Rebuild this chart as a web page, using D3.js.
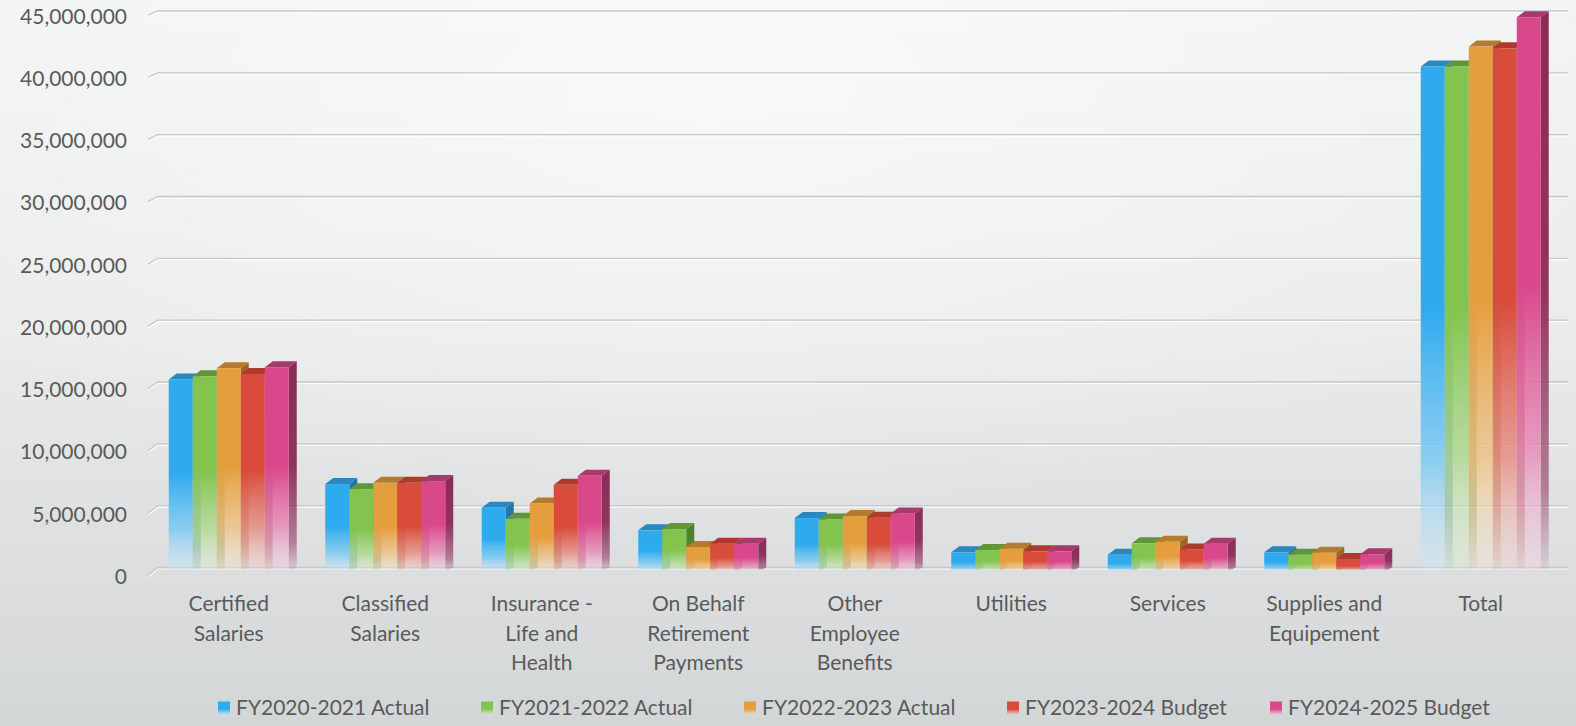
<!DOCTYPE html>
<html>
<head>
<meta charset="utf-8">
<script src="https://cdn.jsdelivr.net/npm/d3@7"></script>
<style>
  html, body { margin: 0; padding: 0; background: #e6e8e8; }
  svg { display: block; font-family: Lato, "Open Sans", sans-serif; }
</style>
</head>
<body>
<svg id="chart" width="1576" height="726"></svg>
<script>
// ---- data -------------------------------------------------------------
const categories = [
  "Certified Salaries", "Classified Salaries", "Insurance - Life and Health",
  "On Behalf Retirement Payments", "Other Employee Benefits", "Utilities",
  "Services", "Supplies and Equipement", "Total"
];
const categoryLines = [
  ["Certified", "Salaries"], ["Classified", "Salaries"], ["Insurance -", "Life and", "Health"],
  ["On Behalf", "Retirement", "Payments"], ["Other", "Employee", "Benefits"], ["Utilities"],
  ["Services"], ["Supplies and", "Equipement"], ["Total"]
];
const seriesNames = [
  "FY2020-2021 Actual", "FY2021-2022 Actual", "FY2022-2023 Actual",
  "FY2023-2024 Budget", "FY2024-2025 Budget"
];
const fy2020Actual = [15650000, 7190000, 5270000, 3450000, 4440000, 1670000, 1480000, 1670000, 40960000];
const fy2021Actual = [15910000, 6780000, 4380000, 3550000, 4330000, 1850000, 2400000, 1480000, 40960000];
const fy2022Actual = [16560000, 7290000, 5620000, 2100000, 4600000, 1960000, 2530000, 1640000, 42570000];
const fy2023Budget = [16100000, 7290000, 7130000, 2370000, 4470000, 1750000, 1910000, 1130000, 42430000];
const fy2024Budget = [16640000, 7430000, 7860000, 2370000, 4820000, 1750000, 2370000, 1510000, 44940000];
const seriesValues = [fy2020Actual, fy2021Actual, fy2022Actual, fy2023Budget, fy2024Budget];
const yTicks = [0, 5000000, 10000000, 15000000, 20000000, 25000000, 30000000, 35000000, 40000000, 45000000];

// ---- styling ----------------------------------------------------------
const frontColors = ["#2eabee", "#83c44f", "#e59e3d", "#d94b3a", "#d9488b"];
const topColors   = ["#2a87bf", "#609538", "#b57a2c", "#ad3a2c", "#a63a6b"];
const sideColors  = ["#1f74a6", "#4a7f27", "#9c6420", "#93301f", "#8b2b57"];
const textColor = "#5a5a5a";

const W = 1576, H = 726;
const svg = d3.select("#chart");
const defs = svg.append("defs");

// background: soft grey with a light glow near the top
const bg = defs.append("linearGradient").attr("id", "bg").attr("x1", 0).attr("y1", 0).attr("x2", 0).attr("y2", 1);
bg.append("stop").attr("offset", 0).attr("stop-color", "#f2f3f3");
bg.append("stop").attr("offset", 0.45).attr("stop-color", "#eaebeb");
bg.append("stop").attr("offset", 1).attr("stop-color", "#d3d6d7");
const glow = defs.append("radialGradient").attr("id", "glow")
  .attr("cx", 0.45).attr("cy", 0.12).attr("r", 0.6);
glow.append("stop").attr("offset", 0).attr("stop-color", "#ffffff").attr("stop-opacity", 0.55);
glow.append("stop").attr("offset", 1).attr("stop-color", "#ffffff").attr("stop-opacity", 0);
svg.append("rect").attr("width", W).attr("height", H).attr("fill", "url(#bg)");
svg.append("rect").attr("width", W).attr("height", H).attr("fill", "url(#glow)");

const whiten = (c, t) => d3.interpolateRgb(c, "#ffffff")(t);
frontColors.forEach((c, i) => {
  const g = defs.append("linearGradient").attr("id", "front" + i)
    .attr("x1", 0).attr("y1", 0).attr("x2", 0).attr("y2", 1);
  [[0, c, 1], [0.48, c, 1], [0.78, whiten(c, 0.35), 0.8], [1, whiten(c, 0.75), 0.3]]
    .forEach(([o, col, op]) => g.append("stop").attr("offset", o).attr("stop-color", col).attr("stop-opacity", op));
  const s = defs.append("linearGradient").attr("id", "side" + i)
    .attr("x1", 0).attr("y1", 0).attr("x2", 0).attr("y2", 1);
  [[0, sideColors[i], 1], [0.5, sideColors[i], 0.95], [0.85, sideColors[i], 0.55], [1, sideColors[i], 0.05]]
    .forEach(([o, col, op]) => s.append("stop").attr("offset", o).attr("stop-color", col).attr("stop-opacity", op));
  const l = defs.append("linearGradient").attr("id", "legend" + i)
    .attr("x1", 0).attr("y1", 0).attr("x2", 0).attr("y2", 1);
  [[0, c, 1], [0.6, c, 1], [1, whiten(c, 0.6), 0.6]]
    .forEach(([o, col, op]) => l.append("stop").attr("offset", o).attr("stop-color", col).attr("stop-opacity", op));
});

// ---- scales -----------------------------------------------------------
const yWall = d3.scaleLinear().domain([0, 45000000]).range([567.5, 11]);   // back wall / gridlines
const yBar  = d3.scaleLinear().domain([0, 45000000]).range([573, 16.5]);   // front faces of the columns
const x0 = d3.scaleBand().domain(categories).range([150.5, 1559])
  .paddingInner(0.2332).paddingOuter(0.1166);
const x1 = d3.scaleBand().domain(seriesNames).range([0, x0.bandwidth()]);
const depthX = 8, depthY = 6;

// side-wall slant of each gridline grows toward the floor
const slant = y => 4 + 3.7 * (y - 11) / 556;

// ---- gridlines --------------------------------------------------------
const grid = svg.append("g");
yTicks.forEach(t => {
  const y = yWall(t), s = slant(y);
  grid.append("path")
    .attr("d", `M148.5,${y + s + 1.5} L158,${y + 1.5} L1568,${y + 1.5}`)
    .attr("fill", "none").attr("stroke", "#ffffff").attr("stroke-opacity", 0.85).attr("stroke-width", 1.2);
  grid.append("path")
    .attr("d", `M148,${y + s} L157.5,${y} L1568,${y}`)
    .attr("fill", "none").attr("stroke", "#c6c8c9").attr("stroke-width", 1.3);
});

// ---- value axis -------------------------------------------------------
const axis = svg.append("g").attr("transform", "translate(131,0)")
  .call(d3.axisLeft(yWall).tickValues(yTicks).tickFormat(d3.format(",")).tickSize(0).tickPadding(4));
axis.select(".domain").remove();
axis.selectAll("text")
  .attr("font-family", "Lato, 'Open Sans', sans-serif")
  .attr("font-size", 21).attr("fill", textColor)
  .attr("y", d => slant(yWall(d)) + 1.5);

// ---- columns ----------------------------------------------------------
svg.append("clipPath").attr("id", "floor")
  .append("rect").attr("x", 0).attr("y", 0).attr("width", W).attr("height", 569.5);
const bars = svg.append("g").attr("clip-path", "url(#floor)");

categories.forEach((cat, ci) => {
  const g = bars.append("g");
  seriesNames.forEach((name, si) => {
    const v = seriesValues[si][ci];
    const x = x0(cat) + x1(name), w = x1.bandwidth();
    const yT = yBar(v), yB = yBar(0);
    g.append("path")
      .attr("d", `M${x + w},${yT} L${x + w + depthX},${yT - depthY} L${x + w + depthX},${yB - depthY} L${x + w},${yB} Z`)
      .attr("fill", `url(#side${si})`);
    g.append("path")
      .attr("d", `M${x},${yT} L${x + depthX},${yT - depthY} L${x + w + depthX},${yT - depthY} L${x + w},${yT} Z`)
      .attr("fill", topColors[si]);
    g.append("rect")
      .attr("x", x).attr("y", yT).attr("width", w).attr("height", yB - yT)
      .attr("fill", `url(#front${si})`);
  });
});

// ---- category labels --------------------------------------------------
const catLabels = svg.append("g")
  .attr("font-size", 21).attr("fill", textColor).attr("text-anchor", "middle");
categories.forEach((cat, ci) => {
  const cx = x0(cat) + x0.bandwidth() / 2;
  categoryLines[ci].forEach((line, li) => {
    catLabels.append("text")
      .attr("x", cx).attr("y", 604 + li * 29.3).attr("dy", "0.35em")
      .text(line);
  });
});

// ---- legend -----------------------------------------------------------
const lx = d3.scaleBand().domain(seriesNames).range([218, 218 + 5 * 263]);
const legend = svg.append("g").attr("font-size", 21).attr("fill", textColor);
seriesNames.forEach((name, si) => {
  legend.append("rect")
    .attr("x", lx(name)).attr("y", 701.5).attr("width", 12).attr("height", 13)
    .attr("fill", `url(#legend${si})`);
  legend.append("text")
    .attr("x", lx(name) + 18).attr("y", 708).attr("dy", "0.35em")
    .text(name);
});
</script>
</body>
</html>
